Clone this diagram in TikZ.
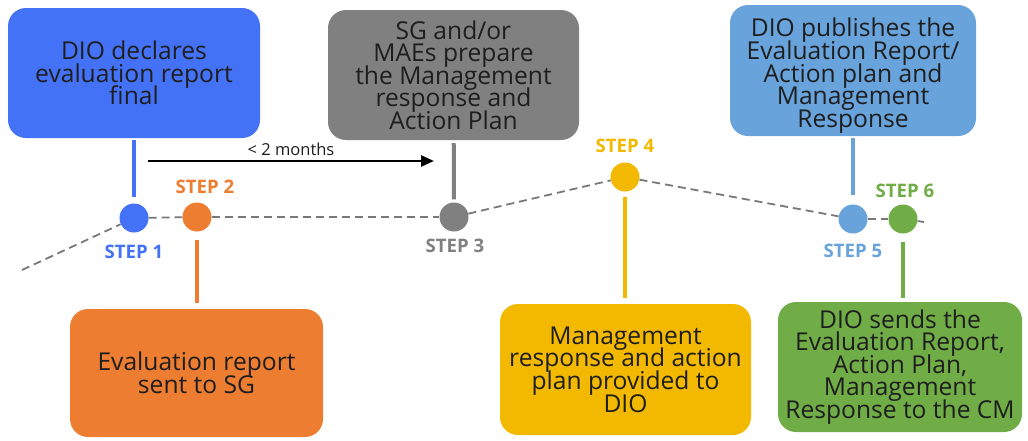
\documentclass[tikz,border=0pt]{standalone}
\usepackage{fontspec}
\setmainfont{Open Sans}
\usetikzlibrary{arrows.meta}
\definecolor{cblue}{RGB}{68,114,246}
\definecolor{corange}{RGB}{237,125,49}
\definecolor{cgrey}{RGB}{128,128,128}
\definecolor{cyellow}{RGB}{243,185,0}
\definecolor{clblue}{RGB}{104,163,220}
\definecolor{cgreen}{RGB}{112,173,71}
\definecolor{ctext}{RGB}{30,30,30}
\definecolor{cdash}{RGB}{120,120,120}
\newcommand\myboxfont{\fontsize{24.6}{22.6}\selectfont\lineskiplimit=-100pt\relax\lineskip=0pt\relax}
\begin{document}
\begin{tikzpicture}[x=1pt,y=-1pt,
  box/.style={rounded corners=18pt,align=center,text=ctext,inner sep=2pt,
    font=\myboxfont},
  dot/.style={circle,minimum size=29pt,inner sep=0pt},
  steplbl/.style={font=\fontsize{18.6}{19}\selectfont\bfseries,inner sep=0pt},
  conn/.style={line width=4pt},
  tl/.style={dashed,cdash,line width=1.8pt,dash pattern=on 8pt off 5pt}]
\useasboundingbox (0,0) rectangle (1028,440);
% boxes
\node[box,fill=cblue,minimum width=252pt,minimum height=130pt] (b1) at (134,73)
  {DIO declares\\evaluation report\\final};
\node[box,fill=corange,minimum width=253pt,minimum height=128pt] (b2) at (196.5,373)
  {Evaluation report\\sent to SG};
\node[box,fill=cgrey,minimum width=251pt,minimum height=130pt] (b3) at (453.5,75)
  {SG and/or\\MAEs prepare\\the Management\\response and\\Action Plan};
\node[box,fill=cyellow,minimum width=251pt,minimum height=131pt] (b4) at (625.5,369.5)
  {Management\\response and action\\plan provided to\\DIO};
\node[box,fill=clblue,minimum width=246pt,minimum height=131pt] (b5) at (853,70.5)
  {\rule{0pt}{29pt}DIO publishes the\\Evaluation Report/\\Action plan and\\Management\\Response};
\node[box,fill=cgreen,minimum width=244pt,minimum height=130pt] (b6) at (900,367)
  {DIO sends the\\Evaluation Report,\\Action Plan,\\Management\\Response to the CM};
% timeline
\coordinate (s0) at (22,270);
\coordinate (s7) at (924,222);
\node[dot,fill=cblue] (c1) at (134,218) {};
\node[dot,fill=corange] (c2) at (197,217) {};
\node[dot,fill=cgrey] (c3) at (454,217) {};
\node[dot,fill=cyellow] (c4) at (625,177) {};
\node[dot,fill=clblue] (c5) at (853,219) {};
\node[dot,fill=cgreen] (c6) at (903,219) {};
\draw[tl] (s0) -- (c1);
\draw[tl] (c1) -- (c2);
\draw[tl] (c2) -- (c3);
\draw[tl] (c3) -- (c4);
\draw[tl] (c4) -- (c5);
\draw[tl] (c5) -- (c6);
\draw[tl] (c6) -- (s7);
% connectors
\draw[conn,cblue,shorten <=2pt,shorten >=6pt] (b1) -- (c1);
\draw[conn,corange,shorten <=8pt,shorten >=6pt] (c2) -- (b2.north -| c2);
\draw[conn,cgrey,shorten <=3pt,shorten >=3pt] (b3) -- (c3);
\draw[conn,cyellow,shorten <=5pt,shorten >=6pt] (c4) -- (b4.north -| c4);
\draw[conn,clblue,shorten <=2pt,shorten >=9pt] (b5.south -| c5) -- (c5);
\draw[conn,cgreen,shorten <=8pt,shorten >=4pt] (c6) -- (b6.north -| c6);
% step labels
\node[steplbl,text=cblue] (l1) at (134,252) {STEP 1};
\node[steplbl,text=corange] (l2) at (205,187) {STEP 2};
\node[steplbl,text=cgrey] (l3) at (455,246) {STEP 3};
\node[steplbl,text=cyellow] (l4) at (625,146) {STEP 4};
\node[steplbl,text=clblue] (l5) at (853,251) {STEP 5};
\node[steplbl,text=cgreen] (l6) at (905,191) {STEP 6};
% arrow
\coordinate (a0) at (148,161);
\coordinate (a1) at (434,161);
\draw[line width=2.5pt,-{Triangle[length=13pt,width=11pt]}] (a0) -- (a1)
  node[midway,above=1pt,font=\fontsize{16.5}{17}\selectfont,text=ctext] (al) {< 2 months};
\end{tikzpicture}
\end{document}
